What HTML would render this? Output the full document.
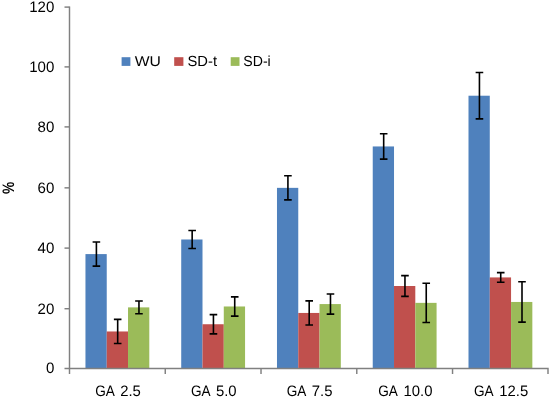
<!DOCTYPE html>
<html lang="en"><head><meta charset="utf-8"><title>Chart</title>
<style>html,body{margin:0;padding:0;background:#fff}svg{display:block}</style>
</head><body>
<svg width="550" height="397" viewBox="0 0 550 397">
<rect width="550" height="397" fill="#fff"/>
<rect x="85.46" y="254.09" width="21.28" height="114.41" fill="#4f81bd"/>
<rect x="106.74" y="331.47" width="21.28" height="37.03" fill="#c0504d"/>
<rect x="128.02" y="307.38" width="21.28" height="61.12" fill="#9bbb59"/>
<rect x="181.22" y="239.49" width="21.28" height="129.01" fill="#4f81bd"/>
<rect x="202.50" y="324.24" width="21.28" height="44.26" fill="#c0504d"/>
<rect x="223.78" y="306.48" width="21.28" height="62.02" fill="#9bbb59"/>
<rect x="276.98" y="187.85" width="21.28" height="180.65" fill="#4f81bd"/>
<rect x="298.26" y="312.95" width="21.28" height="55.55" fill="#c0504d"/>
<rect x="319.54" y="304.07" width="21.28" height="64.43" fill="#9bbb59"/>
<rect x="372.74" y="146.45" width="21.28" height="222.05" fill="#4f81bd"/>
<rect x="394.02" y="286.00" width="21.28" height="82.50" fill="#c0504d"/>
<rect x="415.30" y="302.86" width="21.28" height="65.64" fill="#9bbb59"/>
<rect x="468.50" y="95.72" width="21.28" height="272.78" fill="#4f81bd"/>
<rect x="489.78" y="277.42" width="21.28" height="91.08" fill="#c0504d"/>
<rect x="511.06" y="301.96" width="21.28" height="66.54" fill="#9bbb59"/>
<g stroke="#808080" stroke-width="1.45" fill="none">
<path d="M69.5 6.5V374.0"/>
<path d="M64.5 368.5H548.0V374.0"/>
<path d="M64.5 7.10H69.5"/>
<path d="M64.5 66.90H69.5"/>
<path d="M64.5 126.90H69.5"/>
<path d="M64.5 187.85H69.5"/>
<path d="M64.5 248.10H69.5"/>
<path d="M64.5 308.70H69.5"/>
<path d="M165.26 368.5V374.0"/>
<path d="M261.02 368.5V374.0"/>
<path d="M356.78 368.5V374.0"/>
<path d="M452.54 368.5V374.0"/>
</g>
<g stroke="#000" stroke-width="1.6" fill="none">
<path d="M96.40 242.05V266.13M92.60 242.05h7.6M92.60 266.13h7.6"/>
<path d="M117.68 319.42V343.51M113.88 319.42h7.6M113.88 343.51h7.6"/>
<path d="M138.96 301.06V313.70M135.16 301.06h7.6M135.16 313.70h7.6"/>
<path d="M192.16 230.45V248.52M188.36 230.45h7.6M188.36 248.52h7.6"/>
<path d="M213.44 314.61V333.88M209.64 314.61h7.6M209.64 333.88h7.6"/>
<path d="M234.72 296.84V316.11M230.92 296.84h7.6M230.92 316.11h7.6"/>
<path d="M287.92 175.81V199.89M284.12 175.81h7.6M284.12 199.89h7.6"/>
<path d="M309.20 300.91V324.99M305.40 300.91h7.6M305.40 324.99h7.6"/>
<path d="M330.48 293.98V314.15M326.68 293.98h7.6M326.68 314.15h7.6"/>
<path d="M383.68 133.81V159.10M379.88 133.81h7.6M379.88 159.10h7.6"/>
<path d="M404.96 275.62V296.39M401.16 275.62h7.6M401.16 296.39h7.6"/>
<path d="M426.24 283.29V322.43M422.44 283.29h7.6M422.44 322.43h7.6"/>
<path d="M479.44 72.54V118.90M475.64 72.54h7.6M475.64 118.90h7.6"/>
<path d="M500.72 272.60V282.24M496.92 272.60h7.6M496.92 282.24h7.6"/>
<path d="M522.00 281.79V322.13M518.20 281.79h7.6M518.20 322.13h7.6"/>
</g>
<g font-family="'Liberation Sans', sans-serif" font-size="15.1" fill="#000" style="text-rendering:geometricPrecision">
<text transform="translate(54.30,12.25) scale(0.99,1)" text-anchor="end" font-size="15.2">120</text>
<text transform="translate(54.30,71.90) scale(0.99,1)" text-anchor="end" font-size="15.2">100</text>
<text transform="translate(54.30,131.90) scale(0.99,1)" text-anchor="end" font-size="15.2">80</text>
<text transform="translate(54.30,193.00) scale(0.99,1)" text-anchor="end" font-size="15.2">60</text>
<text transform="translate(54.30,253.25) scale(0.99,1)" text-anchor="end" font-size="15.2">40</text>
<text transform="translate(54.30,314.00) scale(0.99,1)" text-anchor="end" font-size="15.2">20</text>
<text transform="translate(54.30,373.20) scale(0.99,1)" text-anchor="end" font-size="15.2">0</text>
<text transform="translate(95.18,395.60) scale(0.9,1)" text-anchor="start">GA</text>
<text transform="translate(140.88,395.60) scale(0.985,1)" text-anchor="end">2.5</text>
<text transform="translate(190.94,395.60) scale(0.9,1)" text-anchor="start">GA</text>
<text transform="translate(236.64,395.60) scale(0.985,1)" text-anchor="end">5.0</text>
<text transform="translate(286.70,395.60) scale(0.9,1)" text-anchor="start">GA</text>
<text transform="translate(332.40,395.60) scale(0.985,1)" text-anchor="end">7.5</text>
<text transform="translate(378.16,395.60) scale(0.9,1)" text-anchor="start">GA</text>
<text transform="translate(432.46,395.60) scale(0.985,1)" text-anchor="end">10.0</text>
<text transform="translate(473.92,395.60) scale(0.9,1)" text-anchor="start">GA</text>
<text transform="translate(528.22,395.60) scale(0.985,1)" text-anchor="end">12.5</text>
<rect x="121.6" y="57.2" width="8.8" height="8.7" fill="#4f81bd"/>
<text transform="translate(134.70,66.10) scale(1.1,1)" text-anchor="start" font-size="14.3">WU</text>
<rect x="174.2" y="57.2" width="9.2" height="8.7" fill="#c0504d"/>
<text transform="translate(187.50,66.10) scale(1.01,1)" text-anchor="start" font-size="14.6">SD-t</text>
<rect x="230.7" y="57.2" width="8.8" height="8.7" fill="#9bbb59"/>
<text transform="translate(243.30,66.10) scale(0.967,1)" text-anchor="start" font-size="14.6">SD-i</text>
<text transform="translate(14,194) rotate(-90) scale(0.825,1)" font-weight="bold" font-size="16.6">%</text>
</g>
</svg>
</body></html>
